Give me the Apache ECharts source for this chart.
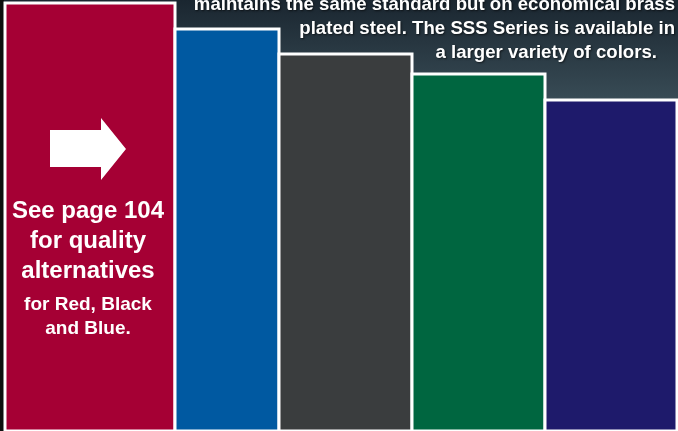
<!DOCTYPE html>
<html>
<head>
<meta charset="utf-8">
<script src="https://cdn.jsdelivr.net/npm/echarts@6/dist/echarts.min.js"></script>
<style>
  html, body { margin: 0; padding: 0; background: #000; }
  #chart { width: 678px; height: 431px; }
</style>
</head>
<body>
<div id="chart"></div>
<script>
// colour blocks, left to right (x span and height)
const blockNames = ['Red', 'Blue', 'Black', 'Green', 'Navy']
const blockStart = [5, 175, 279, 412, 545]
const blockEnd = [175, 279, 412, 545, 677]
const blockHeight = [428, 402, 377, 357, 331]
const blockColors = ['#a50034', '#0059a1', '#3a3d3e', '#006640', '#1e1a6b']

const introLines = [
  'maintains the same standard but on economical brass',
  'plated steel. The SSS Series is available in',
  'a larger variety of colors.',
]
const noteBig = ['See page 104', 'for quality', 'alternatives']
const noteSmall = ['for Red, Black', 'and Blue.']

const chart = echarts.init(document.getElementById('chart'))

const noteFont = "'Liberation Sans', Arial, sans-serif"

const introRight = [675, 675, 657]
const introY = [5, 29, 53]

const graphics = [
  { type: 'rect', left: 0, top: 0, shape: { width: 4, height: 431 }, style: { fill: '#0d0f0e' }, z: 1 },
  // arrow in the red block
  {
    type: 'polygon',
    shape: { points: [[50, 130], [101, 130], [101, 118], [126, 149], [101, 180], [101, 167], [50, 167]] },
    style: { fill: '#ffffff' },
    z: 10,
  },
]

introLines.forEach((t, i) => {
  graphics.push({
    type: 'text',
    x: introRight[i],
    y: introY[i],
    scaleX: 0.98,
    z: 10,
    style: {
      text: t,
      fill: '#ffffff',
      font: `bold 19px ${noteFont}`,
      textAlign: 'right',
      textVerticalAlign: 'middle',
      textShadowColor: 'rgba(0,0,0,0.6)',
      textShadowBlur: 2,
      textShadowOffsetX: 1,
      textShadowOffsetY: 1,
    },
  })
})

const bigY = [211, 241, 271]
noteBig.forEach((t, i) => {
  graphics.push({
    type: 'text', x: 88, y: bigY[i], z: 10,
    style: { text: t, fill: '#ffffff', font: `bold 24px ${noteFont}`, textAlign: 'center', textVerticalAlign: 'middle' },
  })
})
const smallY = [305, 329]
noteSmall.forEach((t, i) => {
  graphics.push({
    type: 'text', x: 88, y: smallY[i], z: 10,
    style: { text: t, fill: '#ffffff', font: `bold 19px ${noteFont}`, textAlign: 'center', textVerticalAlign: 'middle' },
  })
})

chart.setOption({
  animation: false,
  backgroundColor: new echarts.graphic.LinearGradient(0, 0, 0, 1, [
    { offset: 0, color: '#1a2630' },
    { offset: 0.26, color: '#3c505a' },
    { offset: 1, color: '#3c505a' },
  ]),
  grid: { left: 0, right: 0, top: 0, bottom: 0 },
  xAxis: { type: 'value', min: 0, max: 678, show: false },
  yAxis: { type: 'value', min: 0, max: 431, show: false },
  series: [
    {
      type: 'custom',
      data: blockNames.map((n, i) => ({ name: n, value: [blockStart[i], blockEnd[i], blockHeight[i]] })),
      renderItem: (params, api) => {
        const p0 = api.coord([api.value(0), api.value(2)])
        const p1 = api.coord([api.value(1), 0])
        return {
          type: 'rect',
          shape: { x: p0[0], y: p0[1], width: p1[0] - p0[0], height: p1[1] - p0[1] },
          style: { fill: blockColors[params.dataIndex], stroke: '#ffffff', lineWidth: 3 },
        }
      },
    },
  ],
  graphic: graphics,
})
</script>
</body>
</html>
